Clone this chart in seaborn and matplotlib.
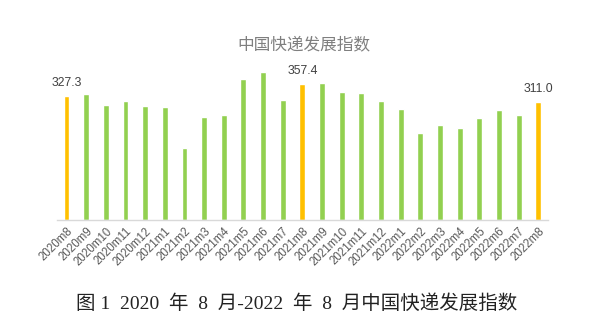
import matplotlib
matplotlib.use("Agg")
import matplotlib.pyplot as plt
import seaborn as sns
import pandas as pd

months = ["2020m8", "2020m9", "2020m10", "2020m11", "2020m12",
          "2021m1", "2021m2", "2021m3", "2021m4", "2021m5", "2021m6",
          "2021m7", "2021m8", "2021m9", "2021m10", "2021m11", "2021m12",
          "2022m1", "2022m2", "2022m3", "2022m4", "2022m5", "2022m6",
          "2022m7", "2022m8"]
index_values = [327.3, 330.5, 301.6, 313.0, 299.0,
                296.0, 188.5, 271.0, 275.0, 371.0, 390.0,
                316.5, 357.4, 361.0, 337.5, 335.0, 312.0,
                293.0, 229.0, 250.0, 241.0, 268.0, 289.0,
                275.0, 311.0]
# August of each year is highlighted and labelled
highlight = [m.endswith("m8") for m in months]

df = pd.DataFrame({"month": months, "value": index_values, "aug": highlight})

sns.set_style("white")
plt.rcParams["font.family"] = ["Liberation Sans", "Noto Sans CJK SC", "DejaVu Sans"]

fig = plt.figure(figsize=(6.07, 3.26), dpi=100)
ax = fig.add_axes([0.0934, 0.325, 0.8096, 0.490])

sns.barplot(data=df, x="month", y="value", hue="aug",
            palette={False: "#92D050", True: "#FFC000"},
            width=0.3, dodge=False, legend=False, ax=ax, saturation=1)

ax.set_xlim(-0.5, len(months) - 0.5)
ax.set_ylim(0, 420)
ax.set_xlabel("")
ax.set_ylabel("")
ax.set_yticks([])
for side in ["top", "right", "left"]:
    ax.spines[side].set_visible(False)
ax.spines["bottom"].set_color("#D9D9D9")
ax.spines["bottom"].set_linewidth(1.0)

ax.tick_params(axis="x", length=0, pad=4, labelsize=8.3, labelcolor="#595959")
plt.setp(ax.get_xticklabels(), rotation=45, ha="right", rotation_mode="anchor")

for i, (v, h) in enumerate(zip(index_values, highlight)):
    if h:
        ax.annotate(f"{v:.1f}", (i, v), xytext=(0, 5), textcoords="offset points",
                    ha="center", va="bottom", fontsize=8.8, color="#404040")

fig.text(0.5, 0.862, "中国快递发展指数", ha="center", va="center",
         fontsize=12, color="#7F7F7F", family=["Noto Sans CJK SC"])

fig.text(0.125, 0.068, "图 1  2020  年  8  月-2022  年  8  月中国快递发展指数",
         ha="left", va="center", fontsize=14, color="#222222",
         family=["Liberation Serif", "Noto Sans CJK SC"])

fig.savefig("out.png", dpi=100)
